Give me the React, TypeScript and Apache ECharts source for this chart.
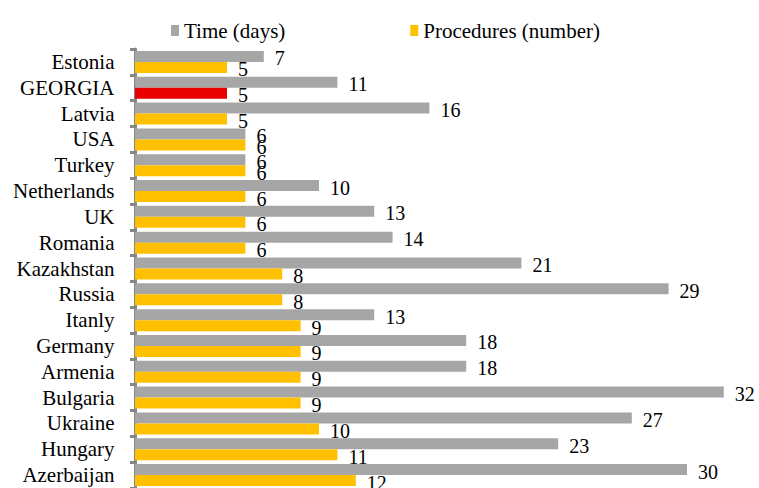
import React, { useEffect, useRef } from "react";
import * as echarts from "echarts";

const categories = [
  "Estonia", "GEORGIA", "Latvia", "USA", "Turkey", "Netherlands", "UK", "Romania",
  "Kazakhstan", "Russia", "Itanly", "Germany", "Armenia", "Bulgaria", "Ukraine", "Hungary", "Azerbaijan",
];
const timeDays = [7, 11, 16, 6, 6, 10, 13, 14, 21, 29, 13, 18, 18, 32, 27, 23, 30];
const procedures = [5, 5, 5, 6, 6, 6, 6, 6, 8, 8, 9, 9, 9, 9, 10, 11, 12];
const seriesNames = ["Time (days)", "Procedures (number)"];
const highlighted = "GEORGIA";

const FONT = "Liberation Serif";

export default function App() {
  const ref = useRef<HTMLDivElement>(null);
  useEffect(() => {
    if (!ref.current) return;
    const chart = echarts.init(ref.current, null, { renderer: "svg" });
    const label = {
      show: true,
      position: "right",
      distance: 11,
      offset: [0, 2],
      color: "#000",
      fontFamily: FONT,
      fontSize: 20,
    };
    chart.setOption({
      animation: false,
      backgroundColor: "#fff",
      textStyle: { fontFamily: FONT },
      legend: {
        data: seriesNames,
        left: 171,
        top: 20,
        padding: 0,
        icon: "rect",
        itemWidth: 8,
        itemHeight: 11,
        itemGap: 125,
        textStyle: { fontFamily: FONT, fontSize: 21, color: "#000" },
      },
      grid: { left: 135, top: 49, width: 33 * 18.4, height: 440, containLabel: false },
      xAxis: {
        type: "value",
        min: 0,
        max: 33,
        show: false,
        splitLine: { show: false },
      },
      yAxis: {
        type: "category",
        data: categories,
        inverse: true,
        offset: 2.5,
        axisLine: { show: true, lineStyle: { color: "#868686", width: 3 } },
        axisTick: { show: true, length: 5, interval: 0, lineStyle: { color: "#868686", width: 3 } },
        axisLabel: { interval: 0, margin: 18, fontFamily: FONT, fontSize: 21, color: "#000" },
        splitLine: { show: false },
      },
      series: [
        {
          name: seriesNames[0],
          type: "bar",
          data: timeDays,
          barWidth: 11,
          barGap: "0%",
          itemStyle: { color: "#A6A6A6" },
          label,
        },
        {
          name: seriesNames[1],
          type: "bar",
          data: procedures.map((v, i) =>
            categories[i] === highlighted ? { value: v, itemStyle: { color: "#E80000" } } : v
          ),
          barWidth: 11,
          barGap: "0%",
          itemStyle: { color: "#FFC000" },
          label,
        },
      ],
    });
    return () => chart.dispose();
  }, []);
  return (
    <div
      ref={ref}
      style={{ position: "fixed", left: 0, top: 0, width: 759, height: 488, background: "#fff" }}
    />
  );
}
